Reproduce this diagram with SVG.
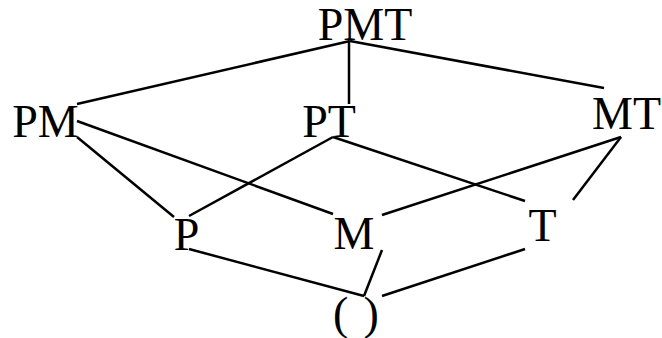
<svg xmlns="http://www.w3.org/2000/svg" width="662" height="338" viewBox="0 0 662 338">
<style>
.lbl{font-family:"Liberation Serif","Times New Roman",serif;font-size:46px;fill:#000;text-anchor:middle}
.e{stroke:#000;stroke-width:2.5;fill:none;stroke-linecap:butt}
</style>
<rect width="662" height="338" fill="#fff"/>
<g id="connectors">
<line class="e" x1="350" y1="41" x2="77" y2="104"/>
<line class="e" x1="349" y1="41" x2="349" y2="104"/>
<line class="e" x1="350" y1="41" x2="604" y2="88"/>
<line class="e" x1="77" y1="121" x2="333" y2="214"/>
<line class="e" x1="77" y1="137" x2="174" y2="217"/>
<line class="e" x1="333" y1="137" x2="189" y2="216"/>
<line class="e" x1="333" y1="137" x2="525" y2="201"/>
<line class="e" x1="621" y1="137" x2="382" y2="215"/>
<line class="e" x1="621" y1="137" x2="573" y2="200"/>
<line class="e" x1="189" y1="249" x2="364" y2="296"/>
<line class="e" x1="382" y1="250" x2="364" y2="296"/>
<line class="e" x1="525" y1="249" x2="382" y2="296"/>
</g>
<g id="PMT"><text class="lbl" x="365" y="40">PMT</text></g>
<g id="PM"><text class="lbl" x="45.5" y="137">PM</text></g>
<g id="PT"><text class="lbl" x="329" y="137">PT</text></g>
<g id="MT"><text class="lbl" x="626.5" y="128.5">MT</text></g>
<g id="P"><text class="lbl" x="186.5" y="249.5">P</text></g>
<g id="M"><text class="lbl" x="354" y="248.5">M</text></g>
<g id="T"><text class="lbl" x="542.5" y="241">T</text></g>
<g id="empty"><text class="lbl" style="text-anchor:start" x="333 363.5" y="329">()</text></g>
</svg>
